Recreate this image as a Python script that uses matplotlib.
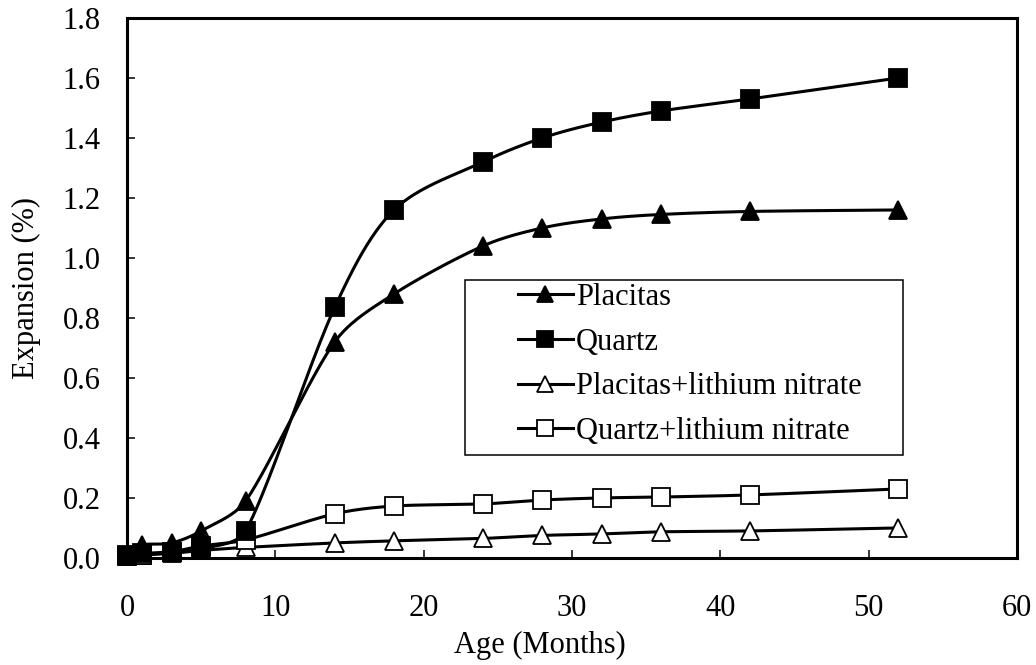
import numpy as np
import matplotlib
matplotlib.use('Agg')
import matplotlib.pyplot as plt
from matplotlib.lines import Line2D
from matplotlib.patches import Rectangle

plt.rcParams['font.family'] = ['Liberation Serif', 'DejaVu Serif']
plt.rcParams['font.size'] = 22

# expansion readings (%) against age in months
months = [0, 1, 3, 5, 8, 14, 18, 24, 28, 32, 36, 42, 52]
placitas = [0.01, 0.043, 0.05, 0.09, 0.19, 0.72, 0.88, 1.04, 1.10, 1.13, 1.145, 1.155, 1.16]
quartz = [0.01, 0.015, 0.02, 0.03, 0.09, 0.835, 1.16, 1.32, 1.40, 1.453, 1.49, 1.53, 1.60]
placitas_li = [0.005, 0.01, 0.015, 0.025, 0.035, 0.05, 0.057, 0.065, 0.075, 0.08, 0.087, 0.09, 0.10]
quartz_li = [0.005, 0.01, 0.02, 0.04, 0.06, 0.147, 0.173, 0.18, 0.193, 0.20, 0.203, 0.21, 0.23]

labels = ['Placitas', 'Quartz', 'Placitas+lithium nitrate', 'Quartz+lithium nitrate']
markers = ['^', 's', '^', 's']
fills = ['black', 'black', 'white', 'white']
layers = [4, 4, 3, 3]

XMAX, YMAX = 60, 1.8


def smooth(x, y, n=40):
    # bezier through every point, tangents from the neighbours,
    # handle length limited by the segment so short steps don't loop
    sc = np.array([890 / XMAX, 540 / YMAX])
    p = np.column_stack([x, y]).astype(float) * sc
    ext = np.vstack([p[0], p, p[-1]])
    t = np.linspace(0, 1, n)[:, None]
    out = []
    for i in range(len(p) - 1):
        p0, p3 = ext[i + 1], ext[i + 2]
        seg = np.linalg.norm(p3 - p0)
        d0 = (ext[i + 2] - ext[i]) / 6
        d1 = (ext[i + 3] - ext[i + 1]) / 6
        n0, n1 = np.linalg.norm(d0), np.linalg.norm(d1)
        if n0 > seg / 3:
            d0 = d0 * (seg / 3) / n0
        if n1 > seg / 3:
            d1 = d1 * (seg / 3) / n1
        p1, p2 = p0 + d0, p3 - d1
        c = ((1 - t) ** 3 * p0 + 3 * (1 - t) ** 2 * t * p1
             + 3 * (1 - t) * t ** 2 * p2 + t ** 3 * p3)
        out.append(c if i == 0 else c[1:])
    out = np.vstack(out) / sc
    return out[:, 0], out[:, 1]


fig = plt.figure(figsize=(10.36, 6.65), dpi=100)
ax = fig.add_axes([0.1226, 0.161, 0.8591, 0.812])

handles = []
for series, lab, m, fc, z in zip([placitas, quartz, placitas_li, quartz_li],
                                 labels, markers, fills, layers):
    sx, sy = smooth(months, series)
    ax.plot(sx, sy, color='black', lw=2.2, solid_capstyle='round', zorder=2)
    ax.plot(months, series, linestyle='none', marker=m, markersize=12.5,
            markerfacecolor=fc, markeredgecolor='black', markeredgewidth=1.3,
            clip_on=False, zorder=z)
    handles.append(Line2D([], [], color='black', lw=2.2, marker=m, markersize=12,
                          markerfacecolor=fc, markeredgecolor='black',
                          markeredgewidth=1.3, label=lab))

ax.set_xlim(0, XMAX)
ax.set_ylim(0, YMAX)
ax.set_xticks(np.arange(0, 61, 10))
ax.set_yticks(np.arange(0, 1.81, 0.2))
ax.set_yticklabels(['%.1f' % v for v in np.arange(0, 1.81, 0.2)])
ax.tick_params(direction='in', length=6, width=1.1, top=False, right=False)
ax.tick_params(axis='x', pad=26)
ax.tick_params(axis='y', pad=19)
for s in ax.spines.values():
    s.set_linewidth(2.2)
    s.set_zorder(2.5)

ax.set_xlabel('Age (Months)')
ax.xaxis.set_label_coords(0.464, -0.135)
ax.set_ylabel('Expansion (%)')
ax.yaxis.set_label_coords(-0.097, 0.5)

ax.add_patch(Rectangle((0.380, 0.191), 0.492, 0.324, transform=ax.transAxes,
                       fill=False, edgecolor='black', lw=1.1, zorder=5))
ax.legend(handles=handles, loc='upper left', bbox_to_anchor=(0.439, 0.509),
          frameon=False, borderpad=0, borderaxespad=0, handlelength=1.8,
          handletextpad=0.1, labelspacing=0.51, fontsize=22)

fig.savefig('out.png', dpi=100)
